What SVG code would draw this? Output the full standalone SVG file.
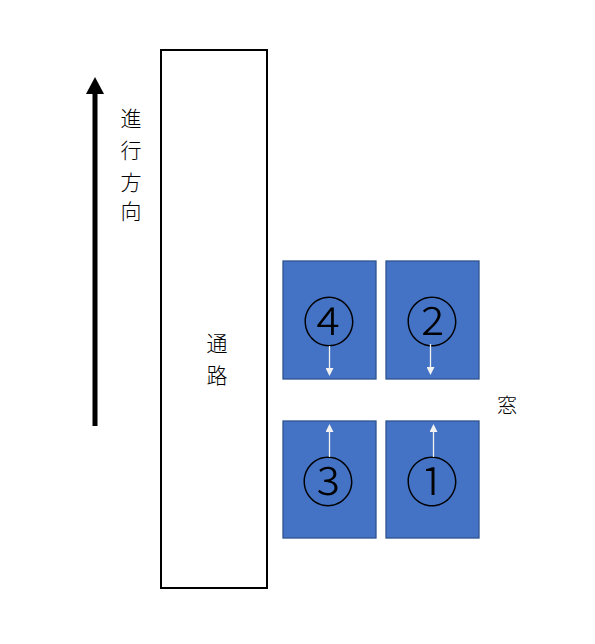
<svg xmlns="http://www.w3.org/2000/svg" width="595" height="644" viewBox="0 0 595 644">
<style>
.t{font-family:"Noto Sans CJK JP","Noto Sans CJK SC",sans-serif;font-weight:300;fill:#000;text-anchor:middle;dominant-baseline:central}
.box{fill:#4472C4;stroke:#2F528F;stroke-width:1.3}
.num{font-size:53px}
.wa{stroke:#F2F2F2;stroke-width:1.3;fill:none}
</style>
<defs>
<marker id="ah" markerWidth="8" markerHeight="8" refX="4" refY="4" orient="auto" markerUnits="userSpaceOnUse">
<path d="M0,0 L8,4 L0,8 Z" fill="#F2F2F2"/>
</marker>
</defs>
<rect width="595" height="644" fill="#fff"/>
<g id="direction">
<line x1="95" y1="426" x2="95" y2="92" stroke="#000" stroke-width="5"/>
<polygon points="86,94 95,77 104,94" fill="#000"/>
<text class="t" font-size="21" x="131" y="117">進</text>
<text class="t" font-size="21" x="131" y="149">行</text>
<text class="t" font-size="21" x="131" y="181">方</text>
<text class="t" font-size="21" x="131" y="210">向</text>
</g>
<g id="passage">
<rect x="161" y="50" width="106" height="538" fill="#fff" stroke="#000" stroke-width="2"/>
<text class="t" font-size="21" x="217" y="342">通</text>
<text class="t" font-size="21" x="217" y="374">路</text>
</g>
<g id="seat4">
<rect class="box" x="283" y="261" width="93" height="118"/>
<text class="t num" x="329" y="319">④</text>
</g>
<g id="seat2">
<rect class="box" x="386" y="261" width="93" height="118"/>
<text class="t num" x="432" y="319">②</text>
</g>
<g id="seat3">
<rect class="box" x="283" y="421" width="93" height="117"/>
<text class="t num" x="328" y="479">③</text>
</g>
<g id="seat1">
<rect class="box" x="386" y="421" width="93" height="117"/>
<text class="t num" x="432" y="479">①</text>
</g>
<g id="window">
<text class="t" font-size="20" x="507" y="404">窓</text>
</g>
<g id="connectors">
<line class="wa" x1="329.5" y1="346" x2="329.5" y2="372" marker-end="url(#ah)"/>
<line class="wa" x1="430.5" y1="344" x2="430.5" y2="371" marker-end="url(#ah)"/>
<line class="wa" x1="329.5" y1="457" x2="329.5" y2="428" marker-end="url(#ah)"/>
<line class="wa" x1="433.5" y1="457" x2="433.5" y2="428" marker-end="url(#ah)"/>
</g>
</svg>
